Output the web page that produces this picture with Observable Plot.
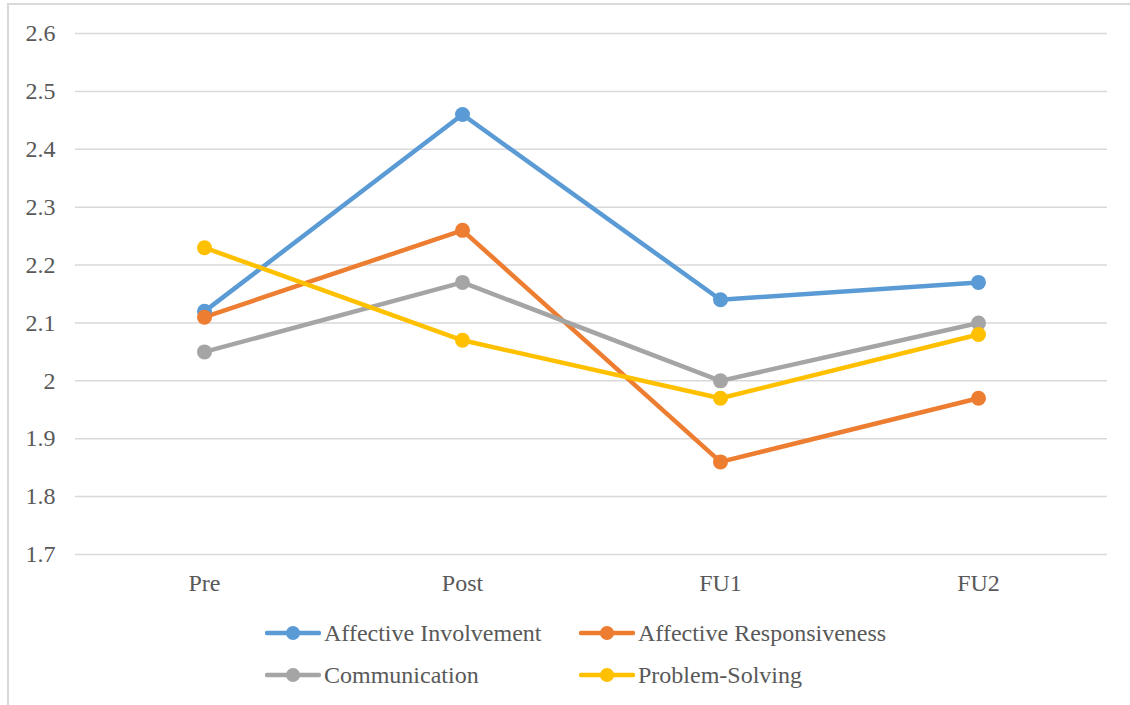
<!DOCTYPE html>
<html>
<head>
<meta charset="utf-8">
<script src="https://cdn.jsdelivr.net/npm/d3@7"></script>
<script src="https://cdn.jsdelivr.net/npm/@observablehq/plot@0.6"></script>
<style>
  html, body { margin: 0; padding: 0; background: #fff; overflow: hidden; width: 1130px; height: 705px; }
  #frame { position: absolute; left: 7px; top: 3px; width: 1300px; height: 900px; border: 2px solid #d9d9d9; box-sizing: border-box; }
  #chart { position: absolute; left: 0; top: 0; }
  #chart svg text { font-family: 'Liberation Serif', serif !important; }
  #legend { position: absolute; left: 0; top: 612px; width: 1130px; font-family: 'Liberation Serif', serif; font-size: 24px; color: #595959; }
  .item { position: absolute; display: flex; align-items: center; height: 30px; white-space: nowrap; }
  .item svg { margin-right: 3px; }
</style>
</head>
<body>
<div id="frame"></div>
<div id="chart"></div>
<div id="legend"></div>
<script>
const categories = ["Pre", "Post", "FU1", "FU2"];
const seriesNames = ["Affective Involvement", "Affective Responsiveness", "Communication", "Problem-Solving"];
const affectiveInvolvement = [2.12, 2.46, 2.14, 2.17];
const affectiveResponsiveness = [2.11, 2.26, 1.86, 1.97];
const communication = [2.05, 2.17, 2.00, 2.10];
const problemSolving = [2.23, 2.07, 1.97, 2.08];
const yTicks = [1.7, 1.8, 1.9, 2.0, 2.1, 2.2, 2.3, 2.4, 2.5, 2.6];
const colors = ["#5B9BD5", "#ED7D31", "#A5A5A5", "#FFC000"];

const seriesValues = [affectiveInvolvement, affectiveResponsiveness, communication, problemSolving];
const data = [];
seriesNames.forEach((s, i) => categories.forEach((c, j) => data.push({series: s, cat: c, value: seriesValues[i][j]})));

const fmt = d => String(+d.toFixed(1));
const chart = Plot.plot({
  width: 1130,
  height: 600,
  marginLeft: 75,
  marginRight: 23,
  marginTop: 33,
  marginBottom: 46,
  style: {fontSize: "24px", color: "#595959", background: "transparent"},
  x: {type: "point", domain: categories, padding: 0.5, label: null},
  y: {domain: [1.7, 2.6], label: null},
  color: {domain: seriesNames, range: colors},
  marks: [
    Plot.gridY(yTicks, {stroke: "#d9d9d9", strokeOpacity: 1, strokeWidth: 1.5}),
    Plot.axisX({tickSize: 0, tickPadding: 19, fontSize: 24, fill: "#595959", label: null}),
    Plot.axisY(yTicks, {tickSize: 0, tickPadding: 20, fontSize: 24, fill: "#595959", tickFormat: fmt, label: null}),
    Plot.line(data, {x: "cat", y: "value", z: "series", stroke: "series", strokeWidth: 4.5, strokeLinejoin: "round", strokeLinecap: "round"}),
    Plot.dot(data, {x: "cat", y: "value", fill: "series", r: 7.5, stroke: "none"})
  ]
});
document.getElementById("chart").appendChild(chart);

// Legend
const legend = document.getElementById("legend");
const positions = [[265, 6], [579, 6], [265, 48], [579, 48]];
seriesNames.forEach((s, i) => {
  const item = document.createElement("div");
  item.className = "item";
  item.style.left = positions[i][0] + "px";
  item.style.top = positions[i][1] + "px";
  item.innerHTML = `<svg width="56" height="16"><line x1="2" y1="8" x2="54" y2="8" stroke="${colors[i]}" stroke-width="4.5" stroke-linecap="round"/><circle cx="28" cy="8" r="7" fill="${colors[i]}"/></svg><span>${s}</span>`;
  legend.appendChild(item);
});
</script>
</body>
</html>
